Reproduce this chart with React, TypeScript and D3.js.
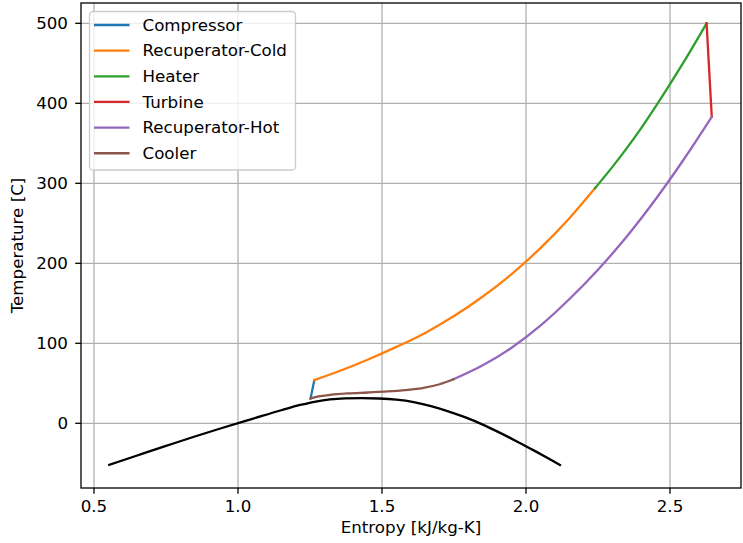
import React from "react";
import * as d3 from "d3";

// ---------- data ----------
const seriesNames = ["Compressor", "Recuperator-Cold", "Heater", "Turbine", "Recuperator-Hot", "Cooler"];
const seriesColors = ["#1f77b4", "#ff7f0e", "#2ca02c", "#d62728", "#9467bd", "#8c564b"];

const compressorS = [1.252, 1.265];
const compressorT = [31, 54];

const recupColdS = [1.265, 1.35, 1.45, 1.55, 1.65, 1.75, 1.85, 1.95, 2.05, 2.15, 2.24];
const recupColdT = [54, 65, 79.5, 95.5, 113, 134, 158.5, 186.5, 219, 256, 294];

const heaterS = [2.24, 2.3, 2.35, 2.4, 2.45, 2.5, 2.55, 2.627];
const heaterT = [294, 320.5, 344, 369, 396, 424, 453, 500];

const turbineS = [2.627, 2.645];
const turbineT = [500, 383];

// listed by increasing entropy (flow runs from 2.645 down to 1.748)
const recupHotS = [1.748, 1.85, 1.95, 2.05, 2.15, 2.25, 2.35, 2.45, 2.55, 2.645];
const recupHotT = [55, 72.5, 94.5, 122, 155, 192, 233.5, 280, 331, 383];

const coolerS = [1.252, 1.28, 1.32, 1.38, 1.45, 1.52, 1.58, 1.64, 1.7, 1.748];
const coolerT = [31, 33.5, 35.5, 37.3, 38.5, 39.8, 41.5, 44, 48.8, 55];

const domeS = [0.553, 0.65, 0.75, 0.85, 0.95, 1.05, 1.15, 1.22, 1.27, 1.32, 1.37, 1.43, 1.49, 1.55, 1.61, 1.67, 1.73, 1.79, 1.85, 1.91, 1.97, 2.03, 2.08, 2.118];
const domeT = [-52, -40.3, -28.3, -16.5, -5.3, 5.5, 16.3, 23.2, 27.2, 29.8, 31.1, 31.5, 31, 29.5, 26.5, 21.5, 15, 7.3, -1.7, -12, -23, -34.5, -44.3, -52];

const xTicks = [0.5, 1.0, 1.5, 2.0, 2.5];
const xTickLabels = ["0.5", "1.0", "1.5", "2.0", "2.5"];
const yTicks = [0, 100, 200, 300, 400, 500];
const yTickLabels = ["0", "100", "200", "300", "400", "500"];

const xLabel = "Entropy [kJ/kg-K]";
const yLabel = "Temperature [C]";

// ---------- layout ----------
const W = 743, H = 543;
const L = 81, R = 741, T = 3, B = 488;
const FONT = "DejaVu Sans";
const FS = 16.7;
const LW = 2.3;

export default function App() {
  const x = d3.scaleLinear().domain([0.4549, 2.7465]).range([L, R]);
  const y = d3.scaleLinear().domain([-80.9, 525.4]).range([B, T]);

  const mk = (S: number[], Tv: number[], curved: boolean) => {
    const pts: [number, number][] = S.map((s, i) => [s, Tv[i]]);
    const gen = d3
      .line<[number, number]>()
      .x((d) => x(d[0]))
      .y((d) => y(d[1]))
      .curve(curved ? d3.curveMonotoneX : d3.curveLinear);
    return gen(pts) || "";
  };

  const series = [
    mk(compressorS, compressorT, false),
    mk(recupColdS, recupColdT, true),
    mk(heaterS, heaterT, true),
    mk(turbineS, turbineT, false),
    mk(recupHotS, recupHotT, true),
    mk(coolerS, coolerT, true),
  ];
  const dome = mk(domeS, domeT, true);

  const legX = 89.5, legY = 11.5, legW = 206, legH = 158.5;
  const rowY0 = 25, rowDY = 25.65;

  return (
    <svg
      width={W}
      height={H}
      style={{ position: "absolute", left: 0, top: 0, background: "#fff" }}
      fontFamily={FONT}
      fontSize={FS}
    >
      <rect x={0} y={0} width={W} height={H} fill="#fff" />
      <defs>
        <clipPath id="plotclip">
          <rect x={L} y={T} width={R - L} height={B - T} />
        </clipPath>
      </defs>
      {/* grid */}
      <g stroke="#b0b0b0" strokeWidth={1.3}>
        {xTicks.map((t) => (
          <line key={"gx" + t} x1={x(t)} x2={x(t)} y1={T} y2={B} />
        ))}
        {yTicks.map((t) => (
          <line key={"gy" + t} x1={L} x2={R} y1={y(t)} y2={y(t)} />
        ))}
      </g>
      {/* lines */}
      <g clipPath="url(#plotclip)" fill="none" strokeWidth={LW} strokeLinecap="square" strokeLinejoin="round">
        <path d={dome} stroke="#000" />
        {series.map((d, i) => (
          <path key={i} d={d} stroke={seriesColors[i]} />
        ))}
      </g>
      {/* frame */}
      <rect x={L} y={T} width={R - L} height={B - T} fill="none" stroke="#000" strokeWidth={1.3} />
      {/* ticks */}
      <g stroke="#000" strokeWidth={1.3}>
        {xTicks.map((t) => (
          <line key={"tx" + t} x1={x(t)} x2={x(t)} y1={B} y2={B + 5.8} />
        ))}
        {yTicks.map((t) => (
          <line key={"ty" + t} x1={L} x2={L - 5.8} y1={y(t)} y2={y(t)} />
        ))}
      </g>
      <g fill="#000">
        {xTicks.map((t, i) => (
          <text key={"lx" + t} x={x(t)} y={511.7} textAnchor="middle">
            {xTickLabels[i]}
          </text>
        ))}
        {yTicks.map((t, i) => (
          <text key={"ly" + t} x={68} y={y(t) + 5.8} textAnchor="end">
            {yTickLabels[i]}
          </text>
        ))}
        <text x={(L + R) / 2} y={533} textAnchor="middle">
          {xLabel}
        </text>
        <text transform={`translate(22.5, ${(T + B) / 2}) rotate(-90)`} textAnchor="middle">
          {yLabel}
        </text>
      </g>
      {/* legend */}
      <rect
        x={legX}
        y={legY}
        width={legW}
        height={legH}
        rx={3.5}
        fill="#fff"
        fillOpacity={0.8}
        stroke="#cccccc"
        strokeWidth={1.3}
      />
      {seriesNames.map((name, i) => {
        const yy = rowY0 + i * rowDY;
        return (
          <g key={name}>
            <line x1={94} x2={129.5} y1={yy} y2={yy} stroke={seriesColors[i]} strokeWidth={LW} />
            <text x={142.5} y={yy + 5.7} fill="#000">
              {name}
            </text>
          </g>
        );
      })}
    </svg>
  );
}
